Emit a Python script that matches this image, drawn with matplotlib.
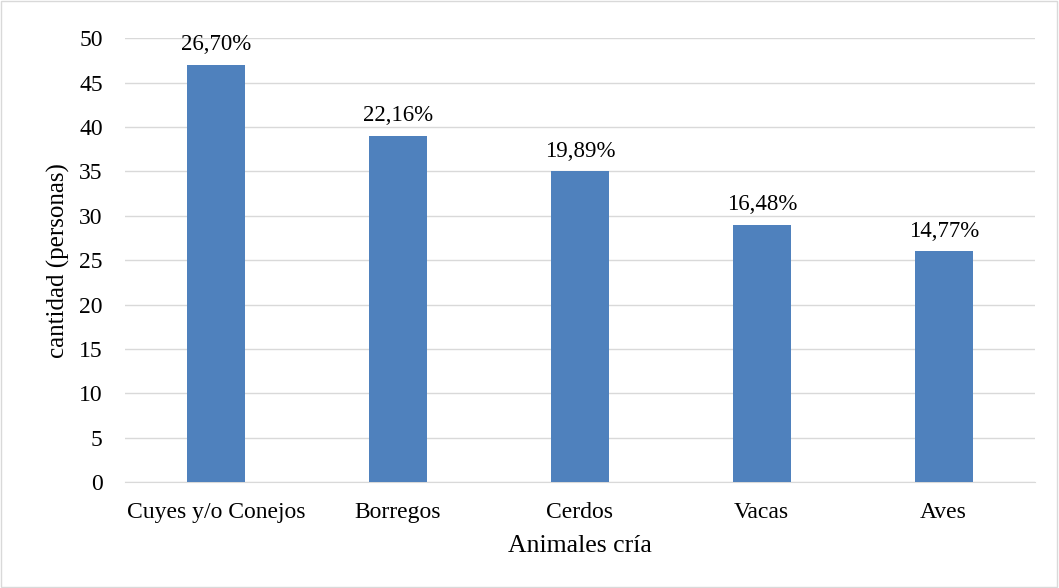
import matplotlib
matplotlib.use("Agg")
import matplotlib.pyplot as plt
from matplotlib.patches import Rectangle

categorias = ["Cuyes y/o Conejos", "Borregos", "Cerdos", "Vacas", "Aves"]
cantidad = [47, 39, 35, 29, 26]
porcentajes = ["26,70%", "22,16%", "19,89%", "16,48%", "14,77%"]

plt.rcParams["font.family"] = ["Liberation Serif", "DejaVu Serif"]

fig = plt.figure(figsize=(10.59, 5.88), dpi=100)
ax = fig.add_axes([0.118, 0.18, 0.859, 0.755])

x = range(len(categorias))
bars = ax.bar(x, cantidad, width=0.32, color="#4F81BD", zorder=3)
for b, p in zip(bars, porcentajes):
    ax.text(b.get_x() + b.get_width() / 2, b.get_height() + 1.1, p,
            ha="center", va="bottom", fontsize=16.5)

ax.set_xlim(-0.5, len(categorias) - 0.5)
ax.set_ylim(0, 50)
ax.set_yticks(range(0, 51, 5))
ax.set_xticks(list(x))
ax.set_xticklabels(categorias)
ax.tick_params(axis="both", length=0, labelsize=17)
ax.tick_params(axis="y", pad=16)
ax.tick_params(axis="x", pad=14)
ax.yaxis.grid(True, color="#D9D9D9", linewidth=1, zorder=0)
for s in ["top", "right", "left"]:
    ax.spines[s].set_visible(False)
ax.spines["bottom"].set_color("#D9D9D9")
ax.set_xlabel("Animales cría", fontsize=18.5, labelpad=9)
ax.set_ylabel("cantidad (personas)", fontsize=18)
ax.yaxis.set_label_coords(-0.06, 0.5)

fig.patches.append(Rectangle((0.001, 0.001), 0.997, 0.997, transform=fig.transFigure,
                             fill=False, edgecolor="#D9D9D9", linewidth=1))

fig.savefig("out.png", dpi=100)
